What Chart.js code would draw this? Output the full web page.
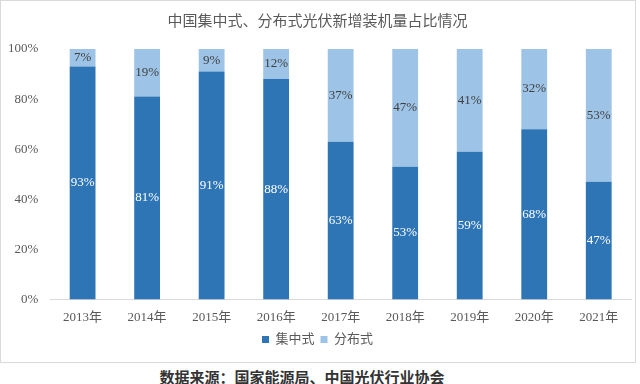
<!DOCTYPE html>
<html>
<head>
<meta charset="utf-8">
<script src="https://cdn.jsdelivr.net/npm/chart.js@4"></script>
<style>
  body { margin: 0; background: #fff; width: 640px; height: 384px; overflow: hidden; }
  #box { position: absolute; left: 0; top: 0; width: 634px; height: 361px; border: 1px solid #d9d9d9; }
  #src { position: absolute; left: 0; top: 366px; width: 604px; text-align: center;
         font: bold 15px "Liberation Serif", "Noto Sans CJK SC", serif; color: #333; }
</style>
</head>
<body>
<div id="box"><canvas id="c" width="634" height="361"></canvas></div>
<div id="src">数据来源：国家能源局、中国光伏行业协会</div>
<script>
var years = ['2013年', '2014年', '2015年', '2016年', '2017年', '2018年', '2019年', '2020年', '2021年'];
var centralized = [93, 81, 91, 88, 63, 53, 59, 68, 47];
var distributed = [7, 19, 9, 12, 37, 47, 41, 32, 53];

var serif = '"Liberation Serif", "Noto Sans CJK SC", serif';

// write the percentage in the middle of each bar segment
var barLabels = {
    id: 'barLabels',
    afterDatasetsDraw: function (chart) {
        var ctx = chart.ctx;
        ctx.save();
        ctx.font = '13px ' + serif;
        ctx.textAlign = 'center';
        ctx.textBaseline = 'middle';
        chart.data.datasets.forEach(function (ds, i) {
            var meta = chart.getDatasetMeta(i);
            meta.data.forEach(function (bar, j) {
                var mid = (bar.y + bar.base) / 2;
                ctx.fillStyle = i === 0 ? '#ffffff' : '#404040';
                ctx.fillText(ds.data[j] + '%', bar.x, mid);
            });
        });
        ctx.restore();
    }
};

var ctx = document.getElementById('c').getContext('2d');
var chart = new Chart(ctx, {
    type: 'bar',
    data: {
        labels: years,
        datasets: [{
            label: '集中式',
            data: centralized,
            backgroundColor: '#2e75b6',
            barPercentage: 0.4,
            categoryPercentage: 1
        }, {
            label: '分布式',
            data: distributed,
            backgroundColor: '#9dc3e6',
            barPercentage: 0.4,
            categoryPercentage: 1
        }]
    },
    options: {
        responsive: false,
        animation: false,
        layout: { padding: { left: 3, right: 4, top: 0, bottom: 6 } },
        plugins: {
            title: {
                display: true,
                text: '中国集中式、分布式光伏新增装机量占比情况',
                color: '#595959',
                font: { family: serif, size: 15, weight: 'normal' },
                padding: { top: 12, bottom: 18 }
            },
            legend: {
                position: 'bottom',
                labels: {
                    boxWidth: 7, boxHeight: 7,
                    color: '#595959',
                    font: { family: serif, size: 13 },
                    padding: 6
                }
            },
            tooltip: { enabled: false }
        },
        scales: {
            x: {
                stacked: true,
                grid: { display: false },
                border: { color: '#d9d9d9' },
                ticks: { color: '#595959', font: { family: serif, size: 13 }, padding: 2 }
            },
            y: {
                stacked: true,
                min: 0, max: 100,
                grid: { display: false },
                border: { display: false },
                ticks: {
                    stepSize: 20,
                    color: '#595959',
                    font: { family: serif, size: 13 },
                    padding: 4,
                    callback: function (v) { return v + '%'; }
                }
            }
        }
    },
    plugins: [barLabels]
});
</script>
</body>
</html>
